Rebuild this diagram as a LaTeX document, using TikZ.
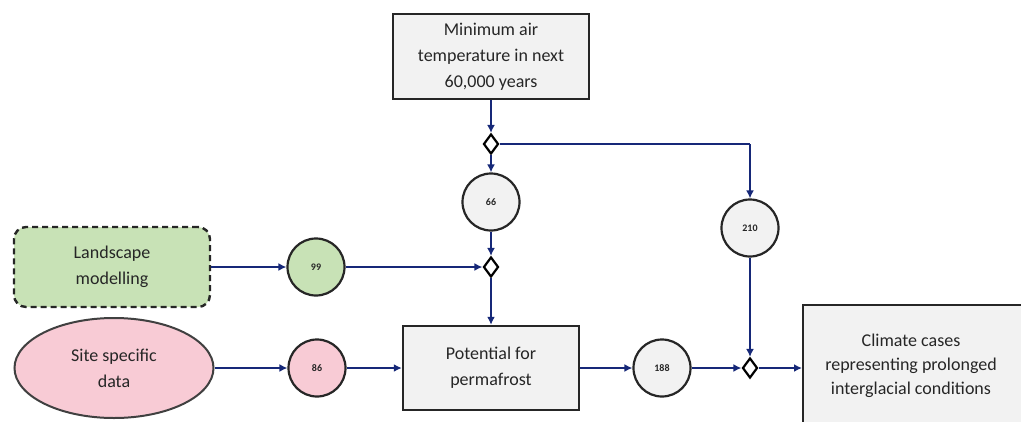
\documentclass[tikz,border=0pt]{standalone}
\usepackage{fontspec}
\setmainfont{Carlito}
\usetikzlibrary{arrows.meta,shapes.geometric}
\definecolor{flow}{RGB}{22,40,120}
\definecolor{boxgray}{RGB}{242,242,242}
\definecolor{landgreen}{RGB}{200,226,182}
\definecolor{sitepink}{RGB}{248,203,213}
\begin{document}
\begin{tikzpicture}[x=1pt,y=-1pt,
  every node/.style={font=\fontsize{18}{26}\selectfont, text=black!85, align=center},
  procbox/.style={draw=black!85, line width=2.4pt, fill=boxgray, inner sep=0pt},
  numcirc/.style={circle, draw=black!85, line width=2.2pt, fill=boxgray, minimum size=57pt, inner sep=0pt, font=\fontsize{10}{12}\bfseries\selectfont},
  junction/.style={diamond, draw=black, line width=2.2pt, fill=white, minimum width=15pt, minimum height=20pt, inner sep=0pt},
  flowline/.style={draw=flow, line width=2.6pt, -{Latex[length=8pt,width=8pt]}},
  plainline/.style={draw=flow, line width=2.6pt}
]
\useasboundingbox (0,0) rectangle (1021,421);

% boxes
\node[procbox, minimum width=196pt, minimum height=85pt] (temp) at (491,56.5)
  {Minimum air\\temperature in next\\60,000 years};
\node[draw=black!85, dash pattern=on 6pt off 4pt, line width=2.4pt, fill=landgreen,
  rounded corners=12pt, minimum width=196pt, minimum height=80pt] (land) at (112,267)
  {Landscape\\modelling};
\node[ellipse, draw=black!75, line width=2pt, fill=sitepink, minimum width=199pt,
  minimum height=100pt, inner sep=0pt] (site) at (114,368) {Site specific\\data};
\node[procbox, minimum width=176pt, minimum height=84pt] (perm) at (491,368)
  {Potential for\\permafrost};
\node[procbox, anchor=north west, minimum width=225pt, minimum height=130pt] (clim) at (802,304) {};
\node[font=\fontsize{18}{24}\selectfont] (climtext) at (911,366) {Climate cases\\representing prolonged\\interglacial conditions};

% numbered circles
\node[numcirc] (c66) at (491,202) {66};
\node[numcirc, fill=landgreen] (c99) at (316,267) {99};
\node[numcirc, fill=sitepink] (c86) at (317,368) {86};
\node[numcirc] (c188) at (662,368) {188};
\node[numcirc] (c210) at (750,228) {210};

% junctions
\node[junction] (j1) at (491,144) {};
\node[junction] (j2) at (491,267) {};
\node[junction] (j3) at (750,368) {};
\coordinate (corner) at (750,144);

% connectors
\draw[flowline] (temp.south) -- (j1.north);
\draw[flowline] (j1.south) -- (c66.north);
\draw[flowline] (c66.south) -- (j2.north);
\draw[flowline] (j2.south) -- (perm.north);
\draw[plainline] (j1.east) -- (corner);
\draw[flowline] (corner) -- (c210.north);
\draw[flowline] (c210.south) -- (j3.north);
\draw[flowline] (land.east) -- (c99.west);
\draw[flowline] (c99.east) -- (j2.west);
\draw[flowline] (site.east) -- (c86.west);
\draw[flowline] (c86.east) -- (perm.west);
\draw[flowline] (perm.east) -- (c188.west);
\draw[flowline] (c188.east) -- (j3.west);
\draw[flowline] (j3.east) -- (clim.west |- j3.east);
\end{tikzpicture}
\end{document}
